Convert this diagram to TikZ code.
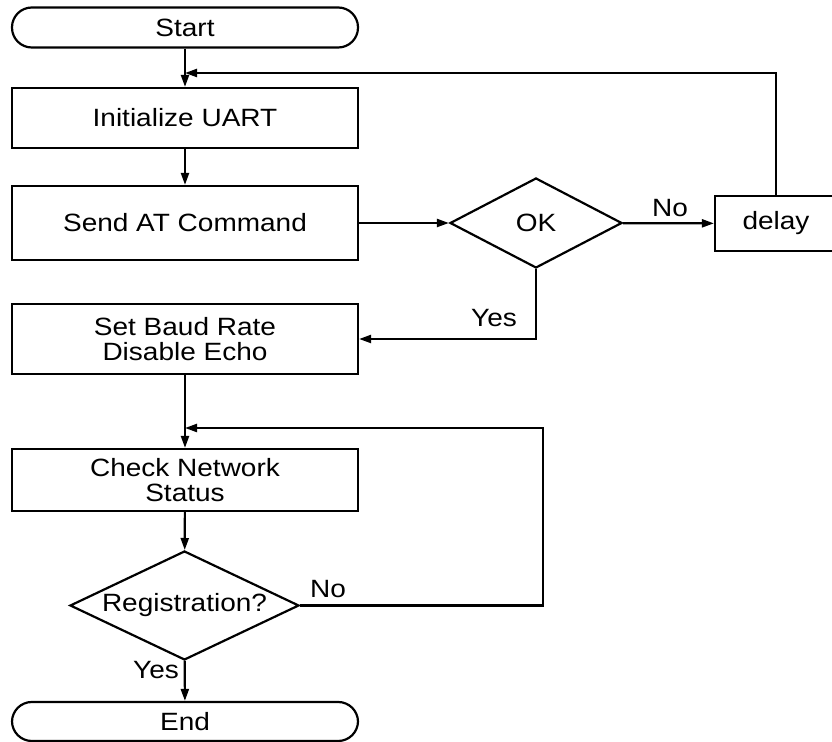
\documentclass[tikz,border=0pt]{standalone}
\usepackage{fontspec}
\setmainfont[FakeStretch=1.12]{Liberation Sans}
\usetikzlibrary{shapes.geometric,arrows.meta}
\begin{document}
\begin{tikzpicture}[x=0.5pt,y=-0.5pt,
  every node/.style={font=\fontsize{12.5}{12.5}\selectfont, inner sep=0pt},
  flow/.style={draw, line width=1.1pt},
  box/.style={flow, rectangle, minimum width=173pt, align=center},
  term/.style={flow, rectangle, rounded corners=9.9pt, minimum width=173pt},
  decide/.style={flow, diamond, aspect=2},
  conn/.style={line width=1.1pt, -{Triangle[length=6pt,width=4pt]}},
  lbl/.style={anchor=center}
]
\useasboundingbox (0,0) rectangle (832,742);

% process steps
\node[term, minimum height=20pt] (start) at (185,27.5) {Start};
\node[box, minimum height=30pt] (init) at (185,118) {Initialize UART};
\node[box, minimum height=37pt] (send) at (185,223) {Send AT Command};
\node[decide, minimum width=86pt, minimum height=45pt] (ok) at (536,223) {OK};
\node[flow, rectangle, minimum width=61pt, minimum height=27.5pt] (delay) at (776,223.5) {delay};
\node[box, minimum height=35pt] (baud) at (185,339) {Set Baud Rate\\Disable Echo};
\node[box, minimum height=31pt] (check) at (185,480) {Check Network\\Status};
\node[decide, minimum width=114.5pt, minimum height=54.5pt] (reg) at (184.5,605.5) {Registration?};
\node[term, minimum height=19.5pt] (end) at (185,721.5) {End};

% join points of the return loops
\coordinate (j1) at (185,73);
\coordinate (j2) at (185,428);
\coordinate (c2) at (543,428);

% main flow
\draw[conn] (start) -- (init);
\draw[conn] (init) -- (send);
\draw[conn] (send) -- (ok);
\draw[conn] (ok) -- (delay);
\draw[conn] (delay.north) |- (j1);
\draw[conn] (ok.south) |- (baud.east);
\draw[conn] (baud) -- (check);
\draw[conn] (check) -- (reg);
\draw[conn] (reg.east) -| (c2) -- (j2);
\draw[conn] (reg) -- (end);

% branch labels
\node[lbl] (okno) at (670,208) {No};
\node[lbl] (okyes) at (494,318) {Yes};
\node[lbl] (regno) at (328,589) {No};
\node[lbl] (regyes) at (156,670) {Yes};
\end{tikzpicture}
\end{document}
